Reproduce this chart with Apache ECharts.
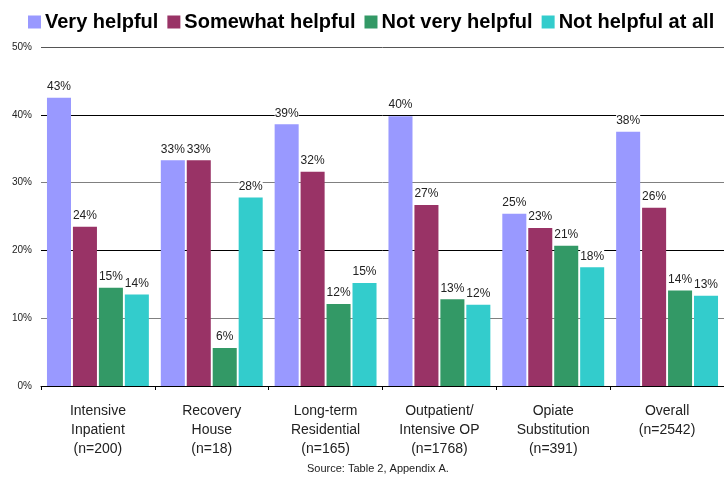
<!DOCTYPE html>
<html>
<head>
<meta charset="utf-8">
<script src="https://cdn.jsdelivr.net/npm/echarts@6/dist/echarts.min.js"></script>
<style>
  html, body { margin: 0; padding: 0; background: #fff; }
  #chart { width: 724px; height: 478px; }
</style>
</head>
<body>
<div id="chart"></div>
<script>
// Treatment settings, with sample sizes on their own line
const categories = [
  'Intensive\nInpatient\n(n=200)',
  'Recovery\nHouse\n(n=18)',
  'Long-term\nResidential\n(n=165)',
  'Outpatient/\nIntensive OP\n(n=1768)',
  'Opiate\nSubstitution\n(n=391)',
  'Overall\n(n=2542)'
];

// Percent of respondents giving each rating
const veryHelpful       = [42.5, 33.3, 38.6, 39.8, 25.4, 37.5];
const somewhatHelpful   = [23.5, 33.3, 31.6, 26.7, 23.3, 26.3];
const notVeryHelpful    = [14.5, 5.6, 12.1, 12.8, 20.7, 14.1];
const notHelpfulAtAll   = [13.5, 27.8, 15.2, 12.0, 17.5, 13.3];

const seriesNames = ['Very helpful', 'Somewhat helpful', 'Not very helpful', 'Not helpful at all'];
const seriesData = [veryHelpful, somewhatHelpful, notVeryHelpful, notHelpfulAtAll];
const colors = ['#9999FF', '#993366', '#339966', '#33CCCC'];

const yTicks = [0, 10, 20, 30, 40, 50];

const FONT = '"Liberation Sans", Arial, sans-serif';

const chart = echarts.init(document.getElementById('chart'), null, { renderer: 'canvas' });

chart.setOption({
  animation: false,
  backgroundColor: '#fff',
  textStyle: { fontFamily: FONT },
  color: colors,
  legend: {
    top: 7,
    left: 23,
    itemWidth: 13,
    itemHeight: 13,
    itemGap: 9,
    icon: 'rect',
    textStyle: { fontFamily: FONT, fontSize: 20, fontWeight: 'bold', color: '#000', padding: [0, 0, 0, -1] },
    data: seriesNames
  },
  grid: { left: 41, right: -6, top: 47, bottom: 92 },
  xAxis: {
    type: 'category',
    data: categories,
    axisLine: { show: true, lineStyle: { color: '#000', width: 1 } },
    axisTick: { show: true, length: 4, lineStyle: { color: '#000' } },
    axisLabel: {
      fontFamily: FONT,
      fontSize: 14,
      color: '#222',
      lineHeight: 19,
      margin: 16,
      interval: 0
    }
  },
  yAxis: {
    type: 'value',
    min: yTicks[0],
    max: yTicks[yTicks.length - 1],
    interval: 10,
    axisLine: { show: false },
    axisTick: { show: false },
    axisLabel: {
      fontFamily: FONT,
      fontSize: 10,
      color: '#222',
      margin: 9,
      formatter: v => v + '%'
    },
    splitLine: {
      show: true,
      lineStyle: { color: ['#000', '#808080', '#000', '#808080', '#000', '#555'], width: 1 }
    }
  },
  series: seriesNames.map((name, i) => ({
    name: name,
    type: 'bar',
    data: seriesData[i],
    barGap: '8%',
    barCategoryGap: '10.5%',
    itemStyle: { color: colors[i] },
    label: {
      show: true,
      position: 'top',
      distance: 2,
      fontFamily: FONT,
      fontSize: 12,
      color: '#222',
      backgroundColor: '#fff',
      padding: [4, 0, 3, 0],
      formatter: p => Math.round(p.value) + '%'
    }
  })),
  graphic: [{
    type: 'text',
    left: 385 - 78,
    top: 463,
    style: {
      text: 'Source: Table 2, Appendix A.',
      font: '11px ' + FONT,
      fill: '#222'
    }
  }]
});
</script>
</body>
</html>
